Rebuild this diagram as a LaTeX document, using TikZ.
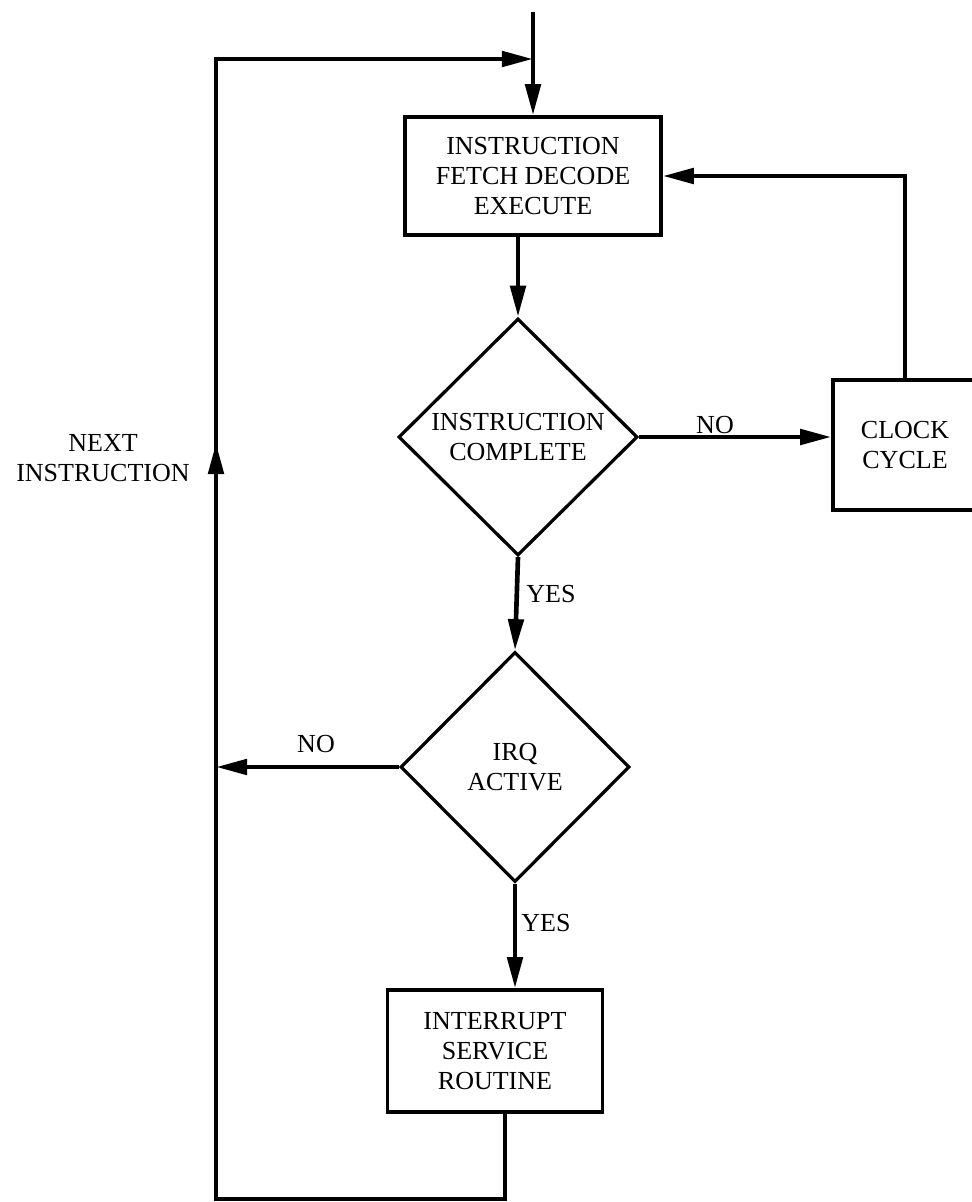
\documentclass[tikz,border=0pt]{standalone}
\usepackage{fontspec}
\setmainfont{Liberation Serif}
\usetikzlibrary{arrows.meta,shapes.geometric}

\begin{document}
\begin{tikzpicture}[x=0.025cm,y=-0.025cm,
  txt/.style={font=\fontsize{18.5}{21.5}\selectfont, align=center},
  stepbox/.style={txt, draw, rectangle, line width=2.4pt, inner sep=0pt},
  decision/.style={txt, draw, diamond, line width=2.3pt, inner sep=0pt},
  link/.style={line width=3.3pt},
  flow/.style={link, -{Triangle[length=0.78cm,width=0.38cm]}}
]
\useasboundingbox (0,0) rectangle (972,1202);

% blocks of the processor loop
\node[stepbox, minimum width=6.4cm, minimum height=2.95cm] (fde) at (533,176)
  {INSTRUCTION\\FETCH DECODE\\EXECUTE};
\node[decision, minimum width=5.975cm, minimum height=5.925cm] (done) at (518,437)
  {INSTRUCTION\\COMPLETE};
\node[stepbox, minimum width=3.6cm, minimum height=3.25cm] (clk) at (905,445)
  {CLOCK\\CYCLE};
\node[decision, minimum width=5.725cm, minimum height=5.75cm] (irq) at (515,767)
  {IRQ\\ACTIVE};
\node[stepbox, minimum width=5.375cm, minimum height=3.05cm] (isr) at (495,1051)
  {INTERRUPT\\SERVICE\\ROUTINE};

% routing points
\coordinate (entry) at (533,12);
\coordinate (join) at (533,59);
\coordinate (tl) at (216,59);
\coordinate (upmark) at (216,443);
\coordinate (irqno) at (216,767);
\coordinate (bot) at (505,1199);
\coordinate (botleft) at (216,1199);

% connectors
\draw[flow] (entry) -- (fde.north);
\draw[flow] (fde.south -| done.north) -- (done.north);
\draw[flow] (done.east) -- (done.east -| clk.west);
\draw[flow] (clk.north) |- (fde.east);
\draw[flow] (done.south) -- (irq.north);
\draw[flow] (irq.west) -- (irqno);
\draw[flow] (irq.south) -- (irq.south |- isr.north);
% return path to the next instruction, with its upward arrowhead
\draw[flow] (isr.south -| bot) -- (bot) -- (botleft) -- (tl) -- (join);
\draw[flow] (botleft) -- (upmark);

% labels
\node[txt] (lno1) at (715,425) {NO};
\node[txt] (lyes1) at (551,594) {YES};
\node[txt] (lno2) at (316,744) {NO};
\node[txt] (lyes2) at (546,923) {YES};
\node[txt] (lnext) at (103,458) {NEXT\\INSTRUCTION};
\end{tikzpicture}
\end{document}
